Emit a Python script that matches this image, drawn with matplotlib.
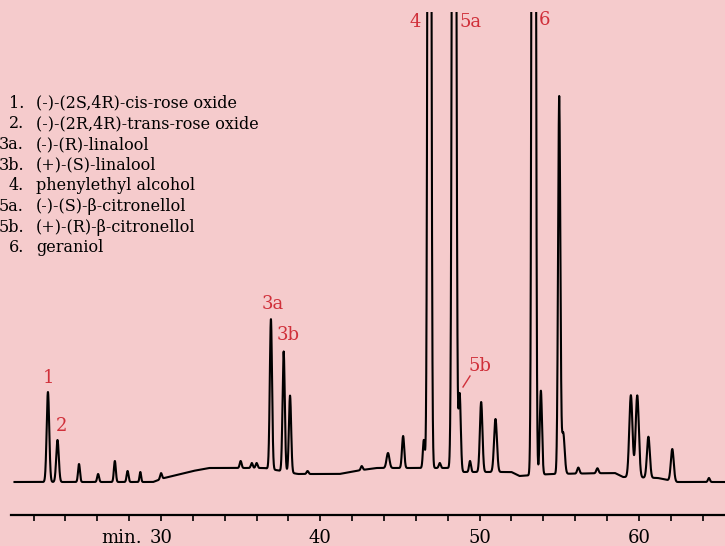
import numpy as np
import matplotlib
matplotlib.use("Agg")
import matplotlib.pyplot as plt

# retention time (min), peak apex height above zero line, peak width (sigma, min)
peak_t = [22.9, 23.5, 24.85, 26.05, 27.1, 27.9, 28.7, 30.0,
          35.0, 35.7, 36.0, 36.9, 37.7, 38.1, 39.2,
          42.6, 44.25, 45.2, 46.5, 46.85, 47.5, 48.4, 48.75, 49.4, 50.1, 51.0,
          53.4, 53.85, 55.0, 55.25, 56.2, 57.4,
          59.5, 59.9, 60.6, 62.1, 64.4]
peak_h = [90, 42, 18, 8, 21, 11, 10, 6,
          7, 5, 5, 150, 120, 77, 3,
          4, 15, 32, 28, 2000, 5, 2000, 77, 11, 70, 53,
          3000, 84, 377, 41, 6, 5,
          82, 82, 41, 32, 4]
peak_w = [0.08, 0.08, 0.06, 0.06, 0.06, 0.06, 0.05, 0.06,
          0.06, 0.06, 0.06, 0.07, 0.07, 0.07, 0.06,
          0.06, 0.09, 0.07, 0.06, 0.08, 0.06, 0.09, 0.07, 0.06, 0.08, 0.09,
          0.08, 0.07, 0.07, 0.09, 0.07, 0.07,
          0.1, 0.1, 0.09, 0.09, 0.06]

# baseline drift
base_t = [20.6, 29.5, 30.2, 31.0, 32.0, 33.0, 36.5, 38.6, 41.2, 42.2, 43.5,
          48.0, 49.0, 52.0, 52.5, 54.5, 58.5, 59.0, 61.2, 62.4, 65.5]
base_y = [0, 0, 4, 7, 11, 14, 14, 8, 8, 11, 14,
          14, 10, 10, 6, 8, 9, 5, 4, 0, 0]

labels = ["1", "2", "3a", "3b", "4", "5a", "5b", "6"]
label_t = [22.91, 23.78, 37.03, 37.97, 45.95, 49.46, 50.02, 54.1]
label_y = [104, 56, 178, 147, 460, 460, 116, 462]

legend_num = ["1.", "2.", "3a.", "3b.", "4.", "5a.", "5b.", "6."]
legend_name = ["(-)-(2S,4R)-cis-rose oxide", "(-)-(2R,4R)-trans-rose oxide",
               "(-)-(R)-linalool", "(+)-(S)-linalool", "phenylethyl alcohol",
               "(-)-(S)-\u03b2-citronellol", "(+)-(R)-\u03b2-citronellol", "geraniol"]

bg = "#f5cbcc"
red = "#d0303a"
plt.rcParams["font.family"] = ["DejaVu Serif"]

t = np.arange(20.6, 65.5, 0.004)
sig = np.interp(t, base_t, base_y)
for pt, ph, pw in zip(peak_t, peak_h, peak_w):
    sig += ph * np.exp(-0.5 * ((t - pt) / pw) ** 2)

fig = plt.figure(figsize=(7.25, 5.46), dpi=100, facecolor=bg)
ax = fig.add_axes([11 / 725, 31 / 546, 714 / 725, 503 / 546])
ax.set_facecolor(bg)
ax.plot(t[t > 20.8], sig[t > 20.8], color="black", lw=1.5)
ax.set_xlim(20.58, 65.41)
ax.set_ylim(-33, 470)

for s in ["top", "left", "right"]:
    ax.spines[s].set_visible(False)
ax.spines["bottom"].set_linewidth(1.6)
ax.set_yticks([])
ax.set_xticks(np.arange(22, 66, 2))
ax.set_xticklabels([str(v) if v % 10 == 0 else "" for v in range(22, 66, 2)],
                   fontsize=13)
ax.tick_params(axis="x", direction="out", length=4, width=1.2, pad=6)
ax.text(27.5, -56, "min.", fontsize=13, ha="center", va="center")

for lab, lt, ly in zip(labels, label_t, label_y):
    ax.text(lt, ly, lab, color=red, fontsize=13, ha="center", va="center")
ax.plot([48.96, 49.40], [95, 106], color=red, lw=1)

for i, (n, name) in enumerate(zip(legend_num, legend_name)):
    y = 1 - (103 + i * 20.7) / 546
    fig.text(24 / 725, y, n, ha="right", va="center", fontsize=11.5)
    fig.text(36 / 725, y, name, ha="left", va="center", fontsize=11.5)

fig.savefig("out.png", dpi=100, facecolor=bg)
